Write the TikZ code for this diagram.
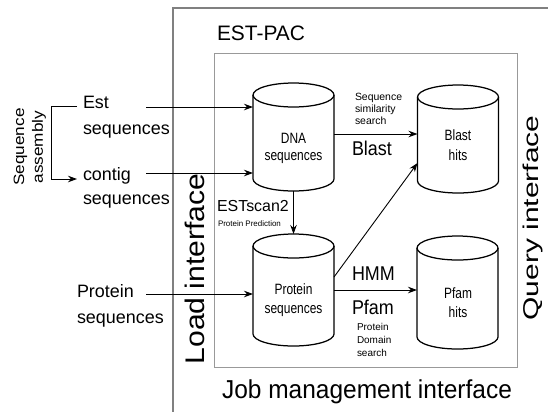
\documentclass[tikz,border=0pt]{standalone}
\usepackage{fontspec}
\setmainfont{Liberation Sans}
\newfontfamily\fnarrow[FakeStretch=0.8]{Liberation Sans}
\newfontfamily\fninety[FakeStretch=0.9]{Liberation Sans}
\newfontfamily\fjob[FakeStretch=0.945]{Liberation Sans}
\newfontfamily\fwide[FakeStretch=1.12]{Liberation Sans}
\newfontfamily\fquery[FakeStretch=1.4]{Liberation Sans}
\newfontfamily\fwider[FakeStretch=1.15]{Liberation Sans}
\usetikzlibrary{arrows.meta,calc}
\newcommand{\tabl}[1]{\begin{tabular}[t]{@{}l@{}}#1\end{tabular}}
\newcommand{\tabc}[1]{\begin{tabular}[t]{@{}c@{}}#1\end{tabular}}
\newcommand{\mycyl}[4]{%
  \node[cylbox, minimum height={(#4-#3)*1bp}] (#1) at (#2,{(#3+#4)/2}) {};
  \draw[cylline] ($(#1.north)+(0,-12bp)$) ellipse [x radius=40.5bp, y radius=12bp];
  \draw[cylline] ($(#1.north west)+(0,-12bp)$) -- ($(#1.south west)+(0,12bp)$)
     arc[start angle=180, end angle=360, x radius=40.5bp, y radius=12bp]
     -- ($(#1.north east)+(0,-12bp)$);
}
\tikzset{
  cylbox/.style={inner sep=0pt, outer sep=0pt, minimum width=81bp, draw=none},
  cylline/.style={line width=1.25bp, black},
  arr/.style={line width=0.9bp, -{Stealth[length=9bp, width=6.5bp]}},
  outerbox/.style={line width=1.2bp, draw=black!50},
  innerbox/.style={line width=1bp, draw=black!40},
  lbl/.style={inner sep=0pt, outer sep=0pt, text=black},
}
\begin{document}
\begin{tikzpicture}[x=1bp, y=-1bp]
\useasboundingbox (0,0) rectangle (548,411);
% boxes
\draw[outerbox] (173,420) -- (173,8) -- (560,8);
\draw[innerbox] (214,53) rectangle (517,367);
\node[lbl, anchor=base west] (estpac) at (217,40) {\fontsize{21}{25}\selectfont EST-PAC};
% cylinders
\mycyl{dna}{293.5}{83}{191}
\mycyl{blast}{458}{85}{193}
\mycyl{prot}{293.5}{234}{346}
\mycyl{pfam}{457.5}{236}{349}
\node[lbl, anchor=base] (dnaT) at (293.5,143) {\fnarrow\fontsize{15}{17.5}\selectfont\tabc{DNA\\sequences}};
\node[lbl, anchor=base] (blastT) at (458,140) {\fnarrow\fontsize{15}{21}\selectfont\tabc{Blast\\hits}};
\node[lbl, anchor=base] (protT) at (293.5,294) {\fnarrow\fontsize{15}{20}\selectfont\tabc{Protein\\sequences}};
\node[lbl, anchor=base] (pfamT) at (458,298) {\fnarrow\fontsize{15}{20}\selectfont\tabc{Pfam\\hits}};
% left labels
\node[lbl, anchor=base west] (estL) at (83,108) {\fontsize{18}{27}\selectfont\tabl{Est\\sequences}};
\node[lbl, anchor=base west] (contigL) at (83,180) {\fontsize{18}{25}\selectfont\tabl{contig\\sequences}};
\node[lbl, anchor=base west] (protL) at (77,297) {\fontsize{18}{27}\selectfont\tabl{Protein\\sequences}};
\node[lbl, anchor=base, rotate=90] (seqasm) at (24,147) {\fwider\fontsize{15}{19}\selectfont\tabc{Sequence\\assembly}};
% interface labels
\node[lbl, anchor=base, rotate=90] (loadL) at (204,269) {\fwide\fontsize{27}{32}\selectfont Load interface};
\node[lbl, anchor=base, rotate=90] (queryL) at (538,218) {\fquery\fontsize{21.5}{26}\selectfont Query interface};
\node[lbl, anchor=base] (jobL) at (367,398) {\fjob\fontsize{26}{30}\selectfont Job management interface};
% edge labels
\node[lbl, anchor=base west] (simL) at (355,100) {\fontsize{10.5}{12.5}\selectfont\tabl{Sequence\\similarity\\search}};
\node[lbl, anchor=base west] (blastL) at (352,155) {\fninety\fontsize{20}{24}\selectfont Blast};
\node[lbl, anchor=base west] (estscanL) at (217,211) {\fontsize{16}{19}\selectfont ESTscan2};
\node[lbl, anchor=base west] (predL) at (218,226) {\fontsize{8}{10}\selectfont Protein Prediction};
\node[lbl, anchor=base west] (hmmL) at (352,280) {\fninety\fontsize{20}{24}\selectfont HMM};
\node[lbl, anchor=base west] (pfamL) at (352,314) {\fninety\fontsize{20}{24}\selectfont Pfam};
\node[lbl, anchor=base west] (domL) at (357,330) {\fontsize{10}{13.5}\selectfont\tabl{Protein\\Domain\\search}};
% arrow start points
\coordinate (estA) at (146,107);
\coordinate (conA) at (146,173);
\coordinate (proA) at (146,294);
% connectors
\draw[arr] (estA) -- (estA -| dna.west);
\draw[arr] (conA) -- (conA -| dna.west);
\draw[arr] (proA) -- (proA -| prot.west);
\draw[arr] ([shift={(-6bp,2bp)}]estL.base west) -- ++(-26bp,0) |- ([shift={(-6bp,1bp)}]contigL.base west);
\draw[arr] ([yshift=3bp]dna.east) -- ([yshift=3bp]dna.east -| blast.west);
\draw[arr] (dna.south) -- (prot.north);
\draw[arr] ([yshift=13bp]prot.east) -- ([yshift=-24bp]blast.west);
\draw[arr] (prot.east) -- (prot.east -| pfam.west);
\end{tikzpicture}
\end{document}
